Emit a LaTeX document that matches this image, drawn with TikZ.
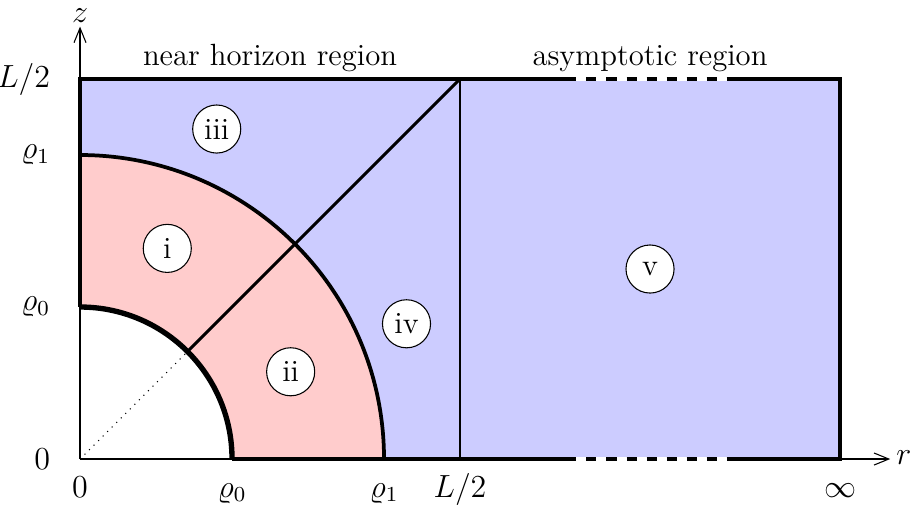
\documentclass[tikz,border=0pt]{standalone}
\usepackage{amsmath}
\usepackage{amssymb}
\usepackage{tikz}
\usetikzlibrary{arrows.meta}

\tikzset{
  region/.style={circle,draw,line width=0.4pt,fill=white,inner sep=0pt,minimum size=18pt},
  edge/.style={line width=1.3pt},
  cut/.style={line width=1.1pt},
  gap/.style={line width=1.3pt,dash pattern=on 3.75pt off 3.75pt},
  axis/.style={line width=0.4pt,-{Straight Barb[length=5.5pt,width=4.5pt]}}
}

\begin{document}
\begin{tikzpicture}[font=\fontsize{11.5}{14}\selectfont]
        \useasboundingbox (-1.053,-0.658) rectangle (10.947,6.04);
        % regions
        \fill[blue!20] (0,0) rectangle (10,5);
        \fill[red!20] (4,0) arc (0:90:4) -- (0,2) arc (90:0:2) -- cycle;
        \fill[white] (0,0) -- (2,0) arc (0:90:2) -- cycle;
        % axes
        \coordinate (O) at (0,0);
        \node[anchor=base] (rlab) at (10.84,-0.07) {$r$};
        \node (zlab) at (0,5.83) {$z$};
        \draw[axis] (O) -- (10.66,0);
        \draw[axis] (O) -- (0,5.69);
        \draw[dotted,line width=0.4pt] (O) -- (45:2);
        % boundary
        \draw[edge] (6.4,5) -- (0,5) -- (0,2);
        \draw[edge] (8.6,5) -- (10,5) -- (10,0) -- (8.6,0);
        \draw[edge] (6.4,0) -- (2,0);
        \draw[white,line width=1.4pt] (6.4,5) -- (8.6,5);
        \draw[white,line width=1.4pt] (6.4,0) -- (8.6,0);
        \draw[gap] (6.4,5) -- (8.6,5);
        \draw[gap] (6.4,0) -- (8.6,0);
        \draw[line width=2pt] (2,0) arc (0:90:2);
        \draw[line width=1.4pt] (4,0) arc (0:90:4);
        \draw[cut] (45:2) -- (5,5);
        \draw[cut] (5,0) -- (5,5);
        % labels on the axes
        \node[anchor=east] (zL) at (-0.27,5) {$L/2$};
        \node[anchor=east] (zone) at (-0.27,4) {$\varrho_1$};
        \node[anchor=east] (zzero) at (-0.27,2) {$\varrho_0$};
        \node[anchor=east] (zorig) at (-0.27,0) {$0$};
        \node[anchor=base] (rorig) at (0,-0.5) {$0$};
        \node[anchor=base] (rzero) at (2,-0.5) {$\varrho_0$};
        \node[anchor=base] (rone) at (4,-0.5) {$\varrho_1$};
        \node[anchor=base] (rL) at (5,-0.5) {$L/2$};
        \node[anchor=base] (rinf) at (10,-0.5) {$\infty$};
        \node[anchor=base] (nearlab) at (2.5,5.18) {near horizon region};
        \node[anchor=base] (asylab) at (7.5,5.18) {asymptotic region};
        % region markers
        \node[region] (ri) at (67.5:3) {i};
        \node[region] (rii) at (22.5:3) {ii};
        \node[region] (riii) at (67.5:4.7) {iii};
        \node[region] (riv) at (22.5:4.65) {iv};
        \node[region] (rv) at (7.5,2.5) {v};
    \end{tikzpicture}
\end{document}
